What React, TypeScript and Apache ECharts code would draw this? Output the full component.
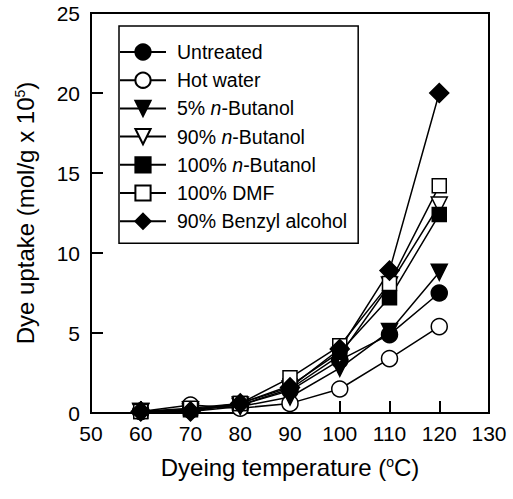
import React, { useEffect, useRef } from "react";
import * as echarts from "echarts";

const temperatures = [60, 70, 80, 90, 100, 110, 120];
const untreated = [0.1, 0.2, 0.5, 1.4, 3.3, 4.9, 7.5];
const hotWater = [0.1, 0.5, 0.3, 0.6, 1.5, 3.4, 5.4];
const butanol5 = [0.1, 0.1, 0.4, 1.0, 2.8, 5.1, 8.8];
const butanol90 = [0.1, 0.2, 0.5, 1.5, 3.6, 8.0, 13.0];
const butanol100 = [0.1, 0.2, 0.6, 1.7, 3.8, 7.2, 12.4];
const dmf100 = [0.1, 0.3, 0.6, 2.2, 4.2, 8.1, 14.2];
const benzyl90 = [0.1, 0.1, 0.6, 1.6, 4.0, 8.9, 20.0];

const seriesNames = [
  "Untreated",
  "Hot water",
  "5% n-Butanol",
  "90% n-Butanol",
  "100% n-Butanol",
  "100% DMF",
  "90% Benzyl alcohol",
];

const FONT = "Liberation Sans, Arial, sans-serif";

export default function App() {
  const ref = useRef<HTMLDivElement>(null);
  useEffect(() => {
    if (!ref.current) return;
    const chart = echarts.init(ref.current, null, { renderer: "svg" });
    const mk = (
      name: string,
      data: number[],
      symbol: string,
      size: number,
      filled: boolean,
      rotate = 0
    ) => ({
      name,
      type: "line",
      data: temperatures.map((t, i) => [t, data[i]]),
      symbol,
      symbolSize: size,
      symbolRotate: rotate,
      showAllSymbol: true,
      lineStyle: { color: "#000", width: 1.5 },
      itemStyle: {
        color: filled ? "#000" : "#fff",
        borderColor: "#000",
        borderWidth: 1.5,
      },
      emphasis: { disabled: true },
    });
    const series = [
      mk(seriesNames[0], untreated, "circle", 16, true),
      mk(seriesNames[1], hotWater, "circle", 16, false),
      mk(seriesNames[2], butanol5, "triangle", 16, true, 180),
      mk(seriesNames[3], butanol90, "triangle", 16, false, 180),
      mk(seriesNames[4], butanol100, "rect", 14, true),
      mk(seriesNames[5], dmf100, "rect", 14, false),
      mk(seriesNames[6], benzyl90, "diamond", 19, true),
    ];
    const supStyle = {
      fontFamily: FONT,
      fontSize: 14,
      color: "#000",
      verticalAlign: "top",
      padding: [0, 0, 10, 0],
    };
    chart.setOption({
      animation: false,
      textStyle: { fontFamily: FONT, color: "#000" },
      grid: {
        left: 91,
        top: 13,
        width: 398,
        height: 400,
        show: true,
        borderColor: "#000",
        borderWidth: 2,
        backgroundColor: "transparent",
      },
      legend: {
        orient: "vertical",
        left: 119,
        top: 26,
        padding: [16, 11, 12, 0],
        itemGap: 8.2,
        itemWidth: 46,
        itemHeight: 19,
        borderColor: "#000",
        borderWidth: 1.5,
        backgroundColor: "#fff",
        data: seriesNames,
        formatter: (n: string) => n.replace("n-Butanol", "{i|n}-Butanol"),
        textStyle: {
          fontFamily: FONT,
          fontSize: 19.5,
          color: "#000",
          padding: [0, 0, 0, 6],
          rich: {
            i: { fontFamily: FONT, fontSize: 19.5, fontStyle: "italic", color: "#000" },
          },
        },
      },
      xAxis: {
        type: "value",
        min: 50,
        max: 130,
        interval: 10,
        name: "Dyeing temperature ({sup|o}C)",
        nameLocation: "middle",
        nameGap: 42,
        nameTextStyle: {
          fontFamily: FONT,
          fontSize: 24,
          color: "#000",
          rich: { sup: supStyle },
        },
        axisLine: { lineStyle: { color: "#000", width: 2 } },
        axisTick: { inside: true, length: 12, lineStyle: { color: "#000", width: 2 } },
        axisLabel: { fontFamily: FONT, fontSize: 21, color: "#000", margin: 10 },
        splitLine: { show: false },
      },
      yAxis: {
        type: "value",
        min: 0,
        max: 25,
        interval: 5,
        name: "Dye uptake (mol/g x 10{sup|5})",
        nameLocation: "middle",
        nameGap: 54,
        nameRotate: 90,
        nameTextStyle: {
          fontFamily: FONT,
          fontSize: 24,
          color: "#000",
          rich: { sup: supStyle },
        },
        axisLine: { lineStyle: { color: "#000", width: 2 } },
        axisTick: { inside: true, length: 12, lineStyle: { color: "#000", width: 2 } },
        axisLabel: { fontFamily: FONT, fontSize: 21, color: "#000", margin: 11 },
        splitLine: { show: false },
      },
      series,
    });
    return () => chart.dispose();
  }, []);
  return (
    <div
      ref={ref}
      style={{ position: "fixed", left: 0, top: 0, width: 513, height: 499, background: "#fff" }}
    />
  );
}
